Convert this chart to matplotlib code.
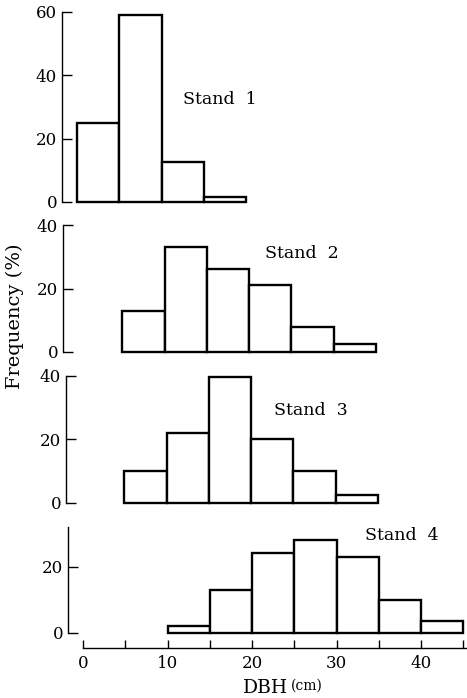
import matplotlib
matplotlib.use("Agg")
import matplotlib.pyplot as plt

# ---- data ----
stand_names = ["Stand  1", "Stand  2", "Stand  3", "Stand  4"]
bin_width = 5
stand1_left = [0, 5, 10, 15]
stand1_freq = [25, 59, 12.5, 1.5]
stand2_left = [5, 10, 15, 20, 25, 30]
stand2_freq = [13, 33, 26, 21, 8, 2.5]
stand3_left = [5, 10, 15, 20, 25, 30]
stand3_freq = [10, 22, 39.5, 20, 10, 2.5]
stand4_left = [10, 15, 20, 25, 30, 35, 40]
stand4_freq = [2, 13, 24, 28, 23, 10, 3.5]
yticks_list = [[0, 20, 40, 60], [0, 20, 40], [0, 20, 40], [0, 20]]
xticks_major = [0, 10, 20, 30, 40]
xticks_all = [0, 5, 10, 15, 20, 25, 30, 35, 40, 45]
xlabel_main = "DBH"
xlabel_unit = "(cm)"
ylabel = "Frequency (%)"

lefts = [stand1_left, stand2_left, stand3_left, stand4_left]
freqs = [stand1_freq, stand2_freq, stand3_freq, stand4_freq]

# ---- layout (pixels) ----
W, H = 467, 698
fig = plt.figure(figsize=(W / 100, H / 100), dpi=100)
sx = 8.45  # px per cm
# spine_px, zero_x_px, zero_y_px, top_y_px, ytop_value
panels = [
    (62, 77, 202, 12, 60),
    (63, 80, 352, 225, 40),
    (66, 82, 502.7, 375.7, 40),
    (68, 83, 632.7, 527, 32),
]
label_pos = [(183, 100), (265, 253), (274, 410), (365, 535)]

serif = "DejaVu Serif"
axes = []
for i, (sp, x0, y0, yt, ytop) in enumerate(panels):
    ax = fig.add_axes([sp / W, 1 - y0 / H, (W - sp) / W, (y0 - yt) / H])
    ax.set_xlim((sp - x0) / sx, (W - x0) / sx)
    ax.set_ylim(0, ytop)
    ax.bar(lefts[i], freqs[i], width=bin_width, align="edge", bottom=0,
           facecolor="white", edgecolor="black", linewidth=1.7, clip_on=False, zorder=3)
    for s in ["top", "right"]:
        ax.spines[s].set_visible(False)
    ax.spines["left"].set_linewidth(1.0)
    ax.spines["left"].set_bounds(0, ytop)
    ax.set_yticks(yticks_list[i])
    ax.tick_params(axis="y", direction="in", length=7, width=1.0, pad=3.5,
                   labelsize=12)
    for t in ax.get_yticklabels():
        t.set_fontfamily(serif)
    if i < 3:
        ax.spines["bottom"].set_visible(False)
        ax.set_xticks([])
    else:
        ax.spines["bottom"].set_position(("outward", 11))
        ax.spines["bottom"].set_bounds(0, 45.4)
        ax.spines["bottom"].set_linewidth(1.0)
        ax.set_xticks(xticks_all)
        ax.set_xticklabels([str(v) if v in xticks_major else "" for v in xticks_all])
        ax.tick_params(axis="x", direction="in", length=6, width=1.0, pad=5,
                       labelsize=12)
        for t in ax.get_xticklabels():
            t.set_fontfamily(serif)
    ax.patch.set_visible(False)
    lx, ly = label_pos[i]
    fig.text(lx / W, 1 - ly / H, stand_names[i], fontsize=12.5, family=serif,
             ha="left", va="center")
    axes.append(ax)

fig.text(243 / W, 1 - 688 / H, xlabel_main, fontsize=13.5, family=serif,
         ha="left", va="center")
fig.text(291 / W, 1 - 686 / H, xlabel_unit, fontsize=10, family=serif,
         ha="left", va="center")
fig.text(15 / W, 1 - 316 / H, ylabel, fontsize=14, family=serif, rotation=90,
         ha="center", va="center")

fig.savefig("out.png", dpi=100, facecolor="white")
